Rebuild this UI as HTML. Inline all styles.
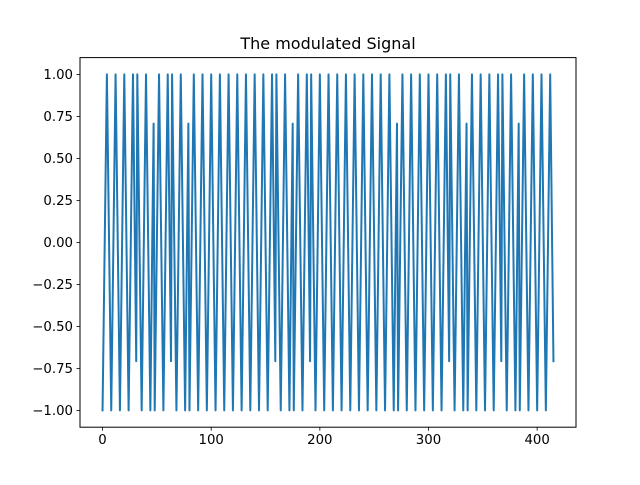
<!DOCTYPE html>
<html><head><meta charset="utf-8"><style>
body{margin:0;background:#fff;}
svg text{font-family:"DejaVu Sans","Liberation Sans",sans-serif;}
</style></head><body>
<svg id="chart" width="640" height="480" xmlns="http://www.w3.org/2000/svg">
<rect width="640" height="480" fill="#fff"/>
<text x="328" y="49" text-anchor="middle" font-size="16" fill="#000">The modulated Signal</text>
<g id="ticks"></g>
<path id="signal" fill="none" stroke="#1f77b4" stroke-width="2" stroke-linejoin="round" stroke-linecap="square"/>
<rect x="80" y="57.6" width="496" height="369.6" fill="none" stroke="#000" stroke-width="1"/>
</svg>
<script>
const sampleX = [0,4,8,12,16,20,24,28,31,32,36,40,44,47,48,52,56,60,63,64,68,72,76,79,80,84,88,92,96,100,104,108,112,116,120,124,128,132,136,140,144,148,152,156,159,160,164,168,172,175,176,180,184,188,191,192,196,200,204,208,212,216,220,224,228,232,236,240,244,248,252,256,260,264,268,271,272,276,280,284,288,292,296,300,304,308,312,316,319,320,324,328,332,335,336,340,344,348,352,356,360,364,367,368,372,376,380,383,384,388,392,396,400,404,408,412,415];
const sampleY = [-1,1,-1,1,-1,1,-1,1,-0.707,1,-1,1,-1,0.707,-1,1,-1,1,-0.707,1,-1,1,-1,0.707,-1,1,-1,1,-1,1,-1,1,-1,1,-1,1,-1,1,-1,1,-1,1,-1,1,-0.707,1,-1,1,-1,0.707,-1,1,-1,1,-0.707,1,-1,1,-1,1,-1,1,-1,1,-1,1,-1,1,-1,1,-1,1,-1,1,-1,0.707,-1,1,-1,1,-1,1,-1,1,-1,1,-1,1,-0.707,1,-1,1,-1,0.707,-1,1,-1,1,-1,1,-1,1,-0.707,1,-1,1,-1,0.707,-1,1,-1,1,-1,1,-1,1,-0.707];
const xTicks = [0,100,200,300,400];
const yTicks = [-1,-0.75,-0.5,-0.25,0,0.25,0.5,0.75,1];

const L=80,R=576,T=57.6,B=427.2;
const xmax = Math.max(...sampleX), xmin = Math.min(...sampleX);
const xpad=(xmax-xmin)*0.05;
const x0=xmin-xpad, x1=xmax+xpad, y0=-1.1, y1=1.1;
const sx=v=>L+(v-x0)/(x1-x0)*(R-L);
const sy=v=>B-(v-y0)/(y1-y0)*(B-T);
const NS="http://www.w3.org/2000/svg";
const g=document.getElementById('ticks');
function mk(tag,attrs){const e=document.createElementNS(NS,tag);for(const k in attrs)e.setAttribute(k,attrs[k]);return e;}
xTicks.forEach(v=>{
  const X=sx(v);
  const t=mk('line',{x1:X,x2:X,y1:B,y2:B+3.5,stroke:'#000','stroke-width':0.8});
  
  
  g.appendChild(t);
  const l=mk('text',{x:X,y:B+17,'text-anchor':'middle','font-size':13.3,fill:'#000'});
  
  
  l.textContent=v;g.appendChild(l);
});
yTicks.forEach(v=>{
  const Y=sy(v);
  const t=mk('line',{x1:L-3.5,x2:L,y1:Y,y2:Y,stroke:'#000','stroke-width':0.8});
  
  
  g.appendChild(t);
  const l=mk('text',{x:L-7,y:Y+4.8,'text-anchor':'end','font-size':13.3,fill:'#000'});
  
  
  l.textContent=(v<0?'\u2212':'')+Math.abs(v).toFixed(2);g.appendChild(l);
});
document.getElementById('signal').setAttribute('d',sampleX.map((x,i)=>(i?'L':'M')+sx(x).toFixed(2)+' '+sy(sampleY[i]).toFixed(2)).join(' '));
</script>
</body></html>
